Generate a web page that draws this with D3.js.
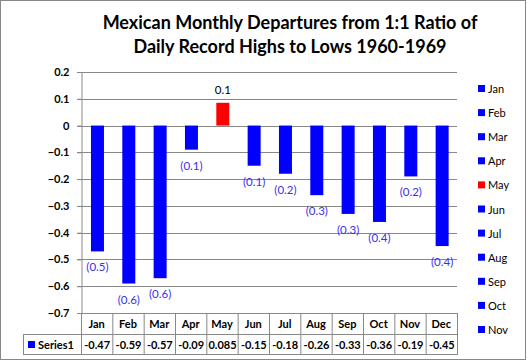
<!DOCTYPE html>
<html>
<head>
<meta charset="utf-8">
<script src="https://cdn.jsdelivr.net/npm/d3@7"></script>
<style>
  body { margin: 0; background: #fff; }
  svg text { font-family: Lato, "Open Sans", sans-serif; }
</style>
</head>
<body>
<div id="chart"></div>
<script>
var months = ["Jan", "Feb", "Mar", "Apr", "May", "Jun", "Jul", "Aug", "Sep", "Oct", "Nov", "Dec"];
var values = [-0.47, -0.59, -0.57, -0.09, 0.085, -0.15, -0.18, -0.26, -0.33, -0.36, -0.19, -0.45];
var tableText = ["-0.47", "-0.59", "-0.57", "-0.09", "0.085", "-0.15", "-0.18", "-0.26", "-0.33", "-0.36", "-0.19", "-0.45"];
var barLabels = ["(0.5)", "(0.6)", "(0.6)", "(0.1)", "0.1", "(0.1)", "(0.2)", "(0.3)", "(0.3)", "(0.4)", "(0.2)", "(0.4)"];
var yTicks = [0.2, 0.1, 0, -0.1, -0.2, -0.3, -0.4, -0.5, -0.6, -0.7];
var legendMonths = months.slice(0, 11);
var seriesName = "Series1";
var titleLines = ["Mexican Monthly Departures from 1:1 Ratio of", "Daily Record Highs to Lows 1960-1969"];

var W = 527, H = 362;
var svg = d3.select("#chart").append("svg").attr("width", W).attr("height", H);

var gridColor = "#888888";
var blue = "#0000ff", red = "#ff0000";
function barColor(d) { return d.v > 0 ? red : blue; }

// outer border
svg.append("rect").attr("x", 0.5).attr("y", 0.5).attr("width", W - 2).attr("height", H - 3)
    .attr("fill", "#fff").attr("stroke", gridColor);

// title
svg.append("g").selectAll("text").data(titleLines).enter().append("text")
    .attr("x", 290).attr("y", function (d, i) { return 29 + i * 24; })
    .attr("text-anchor", "middle").attr("font-size", 18).attr("font-weight", "bold")
    .text(String);

var x = d3.scaleBand().domain(months).range([81, 457]);
var y = d3.scaleLinear().domain([-0.7, 0.2]).range([313, 72]);

// gridlines
svg.append("g").selectAll("line").data(yTicks).enter().append("line")
    .attr("x1", 77).attr("x2", x.range()[1])
    .attr("y1", function (d) { return Math.round(y(d)) + 0.5; })
    .attr("y2", function (d) { return Math.round(y(d)) + 0.5; })
    .attr("stroke", gridColor);

// y axis
var yAxis = svg.append("g").attr("transform", "translate(81.5,0)")
    .call(d3.axisLeft(y).tickValues(yTicks).tickSize(4).tickPadding(8)
        .tickFormat(function (d) { return d === 0 ? "0" : d3.format(".1f")(d); }));
yAxis.select(".domain").attr("stroke", gridColor);
yAxis.selectAll(".tick line").attr("stroke", gridColor);
yAxis.selectAll(".tick text").attr("font-size", 11).attr("font-weight", "bold")
    .attr("font-family", "Lato, sans-serif").attr("fill", "#000");

var data = months.map(function (m, i) { return { m: m, v: values[i], label: barLabels[i] }; });
var bw = 13;

// bars
svg.append("g").selectAll("rect").data(data).enter().append("rect")
    .attr("x", function (d) { return x(d.m) + x.bandwidth() / 2 - bw / 2 + 0.8; })
    .attr("width", bw)
    .attr("y", function (d) { return y(Math.max(0, d.v)); })
    .attr("height", function (d) { return Math.abs(y(d.v) - y(0)); })
    .attr("fill", barColor);

// bar labels
svg.append("g").selectAll("text").data(data).enter().append("text")
    .attr("x", function (d) { return x(d.m) + x.bandwidth() / 2 + 0.8; })
    .attr("y", function (d) { return d.v > 0 ? y(d.v) - 9 : y(d.v) + 20; })
    .attr("text-anchor", "middle").attr("font-size", 11.5)
    .attr("fill", function (d) { return d.v > 0 ? "#000" : "#3b2fe8"; })
    .text(function (d) { return d.label; });

// data table
var tTop = 313, tMid = 334, tBot = 354, tLeft = 23;
var table = svg.append("g");
table.selectAll("line.v").data(months).enter().append("line")
    .attr("x1", function (d) { return x(d) + x.bandwidth() + 0.5; })
    .attr("x2", function (d) { return x(d) + x.bandwidth() + 0.5; })
    .attr("y1", tTop).attr("y2", tBot).attr("stroke", gridColor);
table.append("line").attr("x1", 81.5).attr("x2", 81.5).attr("y1", tTop).attr("y2", tBot).attr("stroke", gridColor);
table.append("line").attr("x1", tLeft + 0.5).attr("x2", tLeft + 0.5).attr("y1", tMid).attr("y2", tBot).attr("stroke", gridColor);
table.append("line").attr("x1", tLeft).attr("x2", x.range()[1] + 1).attr("y1", tMid + 0.5).attr("y2", tMid + 0.5).attr("stroke", gridColor);
table.append("line").attr("x1", tLeft).attr("x2", x.range()[1] + 1).attr("y1", tBot + 0.5).attr("y2", tBot + 0.5).attr("stroke", gridColor);

table.selectAll("text.h").data(months).enter().append("text")
    .attr("x", function (d) { return x(d) + x.bandwidth() / 2; })
    .attr("y", 328).attr("text-anchor", "middle").attr("font-size", 11).attr("font-weight", "bold")
    .text(String);
table.selectAll("text.v").data(tableText).enter().append("text")
    .attr("x", function (d, i) { return x(months[i]) + x.bandwidth() / 2 + 0.5; })
    .attr("y", 349).attr("text-anchor", "middle").attr("font-size", 11).attr("font-weight", "bold")
    .text(String);
table.append("rect").attr("x", 28).attr("y", 341).attr("width", 7).attr("height", 7).attr("fill", blue);
table.append("text").attr("x", 38).attr("y", 349).attr("font-size", 11).attr("font-weight", "bold").text(seriesName);

// legend
var legend = svg.append("g").selectAll("g").data(legendMonths).enter().append("g")
    .attr("transform", function (d, i) { return "translate(478," + (89 + i * 24.1) + ")"; });
legend.append("rect").attr("x", 0).attr("y", -4).attr("width", 7).attr("height", 7)
    .attr("fill", function (d, i) { return values[i] > 0 ? red : blue; });
legend.append("text").attr("x", 10).attr("y", 4).attr("font-size", 11).text(String);
</script>
</body>
</html>
